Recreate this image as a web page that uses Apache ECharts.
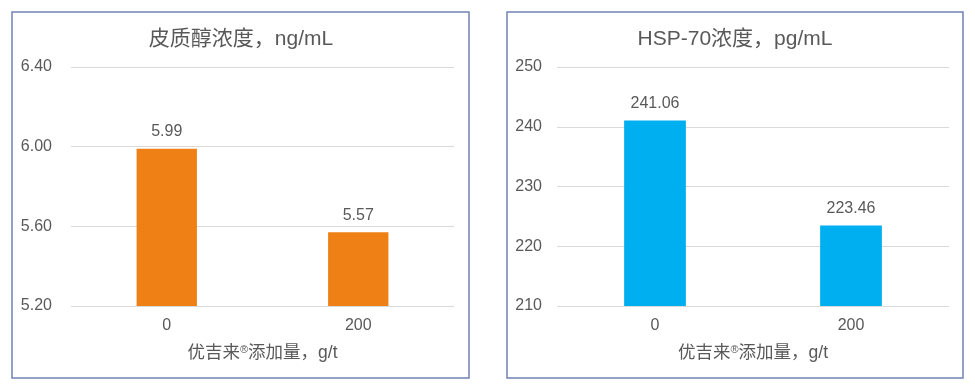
<!DOCTYPE html>
<html><head><meta charset="utf-8">
<script src="https://cdn.jsdelivr.net/npm/echarts@6/dist/echarts.min.js"></script>
<style>html,body{margin:0;padding:0;background:#fff}#c{width:975px;height:389px}</style>
</head><body><div id="c"></div>
<script>
var categories = ['0', '200'];
var cortisolValues = [5.99, 5.57];
var hspValues = [241.06, 223.46];
var cortisolTicks = {min: 5.2, max: 6.4, interval: 0.4};
var hspTicks = {min: 210, max: 250, interval: 10};
var titles = ['皮质醇浓度，ng/mL', 'HSP-70浓度，pg/mL'];
var xName = '优吉来{sup|®}添加量，g/t';

var FONT = '"Liberation Sans", "Noto Sans CJK SC", sans-serif';
var TXT = '#595959';
var chart = echarts.init(document.getElementById('c'), null, {renderer: 'canvas'});

function xAxis(i) {
  return {
    type: 'category', gridIndex: i, data: categories,
    axisLine: {show: false}, axisTick: {show: false},
    axisLabel: {color: TXT, fontSize: 16, fontFamily: FONT, margin: 12},
    name: xName, nameLocation: 'middle', nameGap: 38,
    nameTextStyle: {color: TXT, fontSize: 17.5, fontFamily: FONT,
      rich: {sup: {color: TXT, fontSize: 11, fontFamily: FONT, verticalAlign: 'top', padding: [0, 0, 6, 0]}}}
  };
}
function yAxis(i, t, dec, margin) {
  return {
    type: 'value', gridIndex: i, min: t.min, max: t.max, interval: t.interval,
    axisLine: {show: false}, axisTick: {show: false},
    splitLine: {lineStyle: {color: '#D9D9D9', width: 1}},
    axisLabel: {color: TXT, fontSize: 16, fontFamily: FONT, margin: margin,
      formatter: function (v) { return v.toFixed(dec); }}
  };
}
function series(i, vals, color) {
  return {
    type: 'bar', xAxisIndex: i, yAxisIndex: i, data: vals, barWidth: '31.5%',
    itemStyle: {color: color},
    label: {show: true, position: 'top', distance: 9, color: TXT, fontSize: 16, fontFamily: FONT,
      formatter: function (p) { return p.value.toFixed(2); }}
  };
}

chart.setOption({
  animation: false,
  title: [
    {text: titles[0], left: 236, top: 24, textAlign: 'center',
     textStyle: {color: TXT, fontSize: 21, fontWeight: 'normal', fontFamily: FONT}},
    {text: titles[1], left: 730, top: 24, textAlign: 'center',
     textStyle: {color: TXT, fontSize: 21, fontWeight: 'normal', fontFamily: FONT}}
  ],
  grid: [
    {left: 71, width: 383, top: 67, height: 239},
    {left: 557, width: 392, top: 67, height: 239}
  ],
  xAxis: [xAxis(0), xAxis(1)],
  yAxis: [yAxis(0, cortisolTicks, 2, 19), yAxis(1, hspTicks, 0, 15)],
  series: [series(0, cortisolValues, '#EE8016'), series(1, hspValues, '#00AFEF')],
  graphic: [
    {type: 'rect', shape: {x: 12, y: 12, width: 457, height: 366},
     style: {fill: 'none', stroke: '#7083B5', lineWidth: 1.5}, silent: true},
    {type: 'rect', shape: {x: 507, y: 12, width: 456, height: 366},
     style: {fill: 'none', stroke: '#7083B5', lineWidth: 1.5}, silent: true}
  ]
});
</script></body></html>
